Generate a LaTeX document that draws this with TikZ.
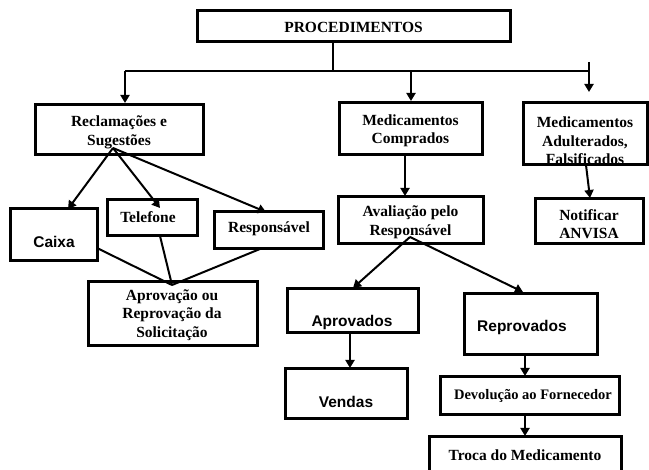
\documentclass[tikz,border=0pt]{standalone}
\usepackage{fontspec}
\setmainfont{Liberation Serif}
\setsansfont{Liberation Sans}
\usetikzlibrary{arrows.meta}
\begin{document}
\begin{tikzpicture}[x=1pt,y=-1pt,
  boxnode/.style={draw, line width=3pt, inner sep=0pt},
  lbl/.style={font=\bfseries\fontsize{15.5}{18.5}\selectfont, align=center, inner sep=0pt},
  slbl/.style={font=\sffamily\bfseries\fontsize{15.5}{18.5}\selectfont, align=center, inner sep=0pt},
  conn/.style={line width=2pt},
  arr/.style={conn, -{Triangle[length=8pt,width=9pt]}}]
\useasboundingbox (0,0) rectangle (649,470);
\fill[white] (0,0) rectangle (649,470);

% texts
\node[lbl] (tproc) at (353.5,27) {PROCEDIMENTOS};
\node[lbl] (trec) at (119,132.5) {Reclamações e\\Sugestões};
\node[lbl] (tcomp) at (410.5,131) {Medicamentos\\Comprados};
\node[lbl] (tadult) at (585,141) {Medicamentos\\Adulterados,\\Falsificados};
\node[lbl] (tnot) at (589,224) {Notificar\\ANVISA};
\node[lbl] (taval) at (410.5,222.5) {Avaliação pelo\\Responsável};
\node[slbl] (tcaixa) at (54,242) {Caixa};
\node[lbl] (ttel) at (148,217) {Telefone};
\node[lbl] (tresp) at (269,229) {Responsável};
\node[lbl] (tsol) at (172,315) {Aprovação ou\\Reprovação da\\Solicitação};
\node[slbl] (taprov) at (352,322) {Aprovados};
\node[slbl] (treprov) at (522,327) {Reprovados};
\node[slbl] (tvendas) at (346,402) {Vendas};
\node[lbl, font=\bfseries\fontsize{14.5}{17}\selectfont] (tdevol) at (533,396) {Devolução ao Fornecedor};
\node[lbl] (ttroca) at (525,455) {Troca do Medicamento};

% boxes
\node[boxnode, minimum width=313pt, minimum height=31pt] (proc) at (353.5,26.5) {};
\node[boxnode, minimum width=168pt, minimum height=50pt] (rec) at (119,130) {};
\node[boxnode, minimum width=143pt, minimum height=52pt] (comp) at (410.5,129) {};
\node[boxnode, minimum width=124pt, minimum height=62pt] (adult) at (585,134) {};
\node[boxnode, minimum width=108pt, minimum height=45pt] (notif) at (589,221.5) {};
\node[boxnode, minimum width=145pt, minimum height=47pt] (aval) at (410.5,220.5) {};
\node[boxnode, minimum width=87pt, minimum height=52pt] (caixa) at (53.5,235) {};
\node[boxnode, minimum width=90pt, minimum height=36pt] (tel) at (152,218) {};
\node[boxnode, minimum width=109pt, minimum height=37pt] (resp) at (268.5,230.5) {};
\node[boxnode, minimum width=169pt, minimum height=64pt] (sol) at (172.5,314) {};
\node[boxnode, minimum width=131pt, minimum height=44pt] (aprov) at (352.5,311) {};
\node[boxnode, minimum width=133pt, minimum height=61pt] (reprov) at (530.5,324.5) {};
\node[boxnode, minimum width=122pt, minimum height=50pt] (vendas) at (346,394) {};
\node[boxnode, minimum width=179pt, minimum height=38pt] (devol) at (529.5,396) {};
\node[boxnode, minimum width=192pt, minimum height=40pt] (troca) at (525,457) {};

% connector points
\coordinate (stemtop) at (333,42);
\coordinate (jmid) at (333,71);
\coordinate (jleft) at (125,71);
\coordinate (jright) at (589,71);
\coordinate (rtop) at (589,62);
\coordinate (rtip) at (589,92);
\coordinate (ltip) at (125,103);
\coordinate (jcomp) at (411,71);
\coordinate (ctip) at (411,101);
\coordinate (recsrc) at (113,148);
\coordinate (caixatip) at (68,209);
\coordinate (teltip) at (160,208);
\coordinate (resptip) at (266,212);
\coordinate (caixaout) at (97,248);
\coordinate (telout) at (160,236);
\coordinate (respout) at (260,249);
\coordinate (soltop) at (172,285);
\coordinate (compout) at (405,155);
\coordinate (avaltip) at (405,196);
\coordinate (adultout) at (586,165);
\coordinate (nottip) at (590,198);
\coordinate (avalsrc) at (410,237);
\coordinate (aprovtip) at (353,288);
\coordinate (reprovtip) at (523,292);
\coordinate (aprovout) at (350,333);
\coordinate (vendastip) at (350,368);
\coordinate (reprovout) at (525,355);
\coordinate (devoltip) at (525,376);
\coordinate (devolout) at (525,415);
\coordinate (trocatip) at (525,436);

% connectors
\draw[conn] (stemtop) -- (jmid);
\draw[conn] (jleft) -- (jright);
\draw[arr] (rtop) -- (rtip);
\draw[arr] (jleft) -- (ltip);
\draw[arr] (jcomp) -- (ctip);
\draw[arr] (recsrc) -- (caixatip);
\draw[arr] (recsrc) -- (teltip);
\draw[arr] (recsrc) -- (resptip);
\draw[conn] (caixaout) -- (soltop);
\draw[conn] (telout) -- (soltop);
\draw[conn] (respout) -- (soltop);
\draw[arr] (compout) -- (avaltip);
\draw[arr] (adultout) -- (nottip);
\draw[arr] (avalsrc) -- (aprovtip);
\draw[arr] (avalsrc) -- (reprovtip);
\draw[arr] (aprovout) -- (vendastip);
\draw[arr] (reprovout) -- (devoltip);
\draw[arr] (devolout) -- (trocatip);
\end{tikzpicture}
\end{document}
